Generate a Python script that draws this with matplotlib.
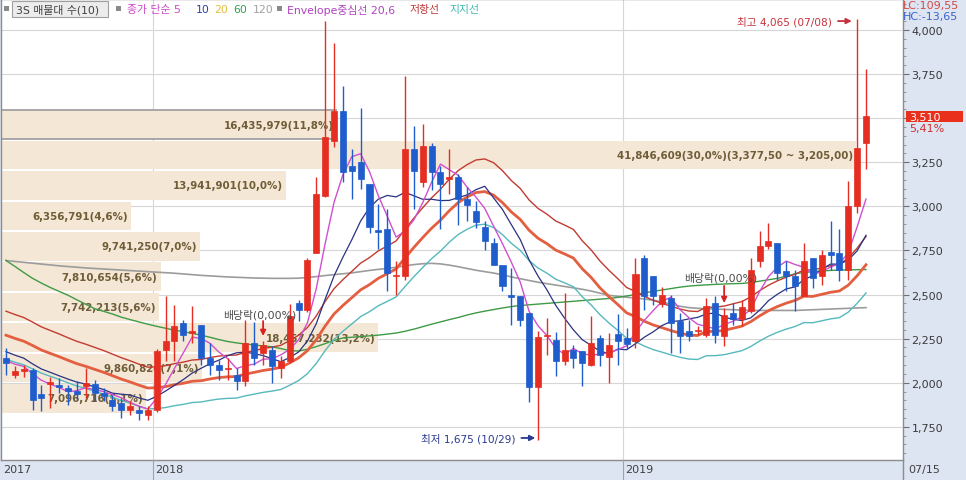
import numpy as np
import pandas as pd
import matplotlib
matplotlib.use('Agg')
import matplotlib.pyplot as plt
from matplotlib import font_manager
from matplotlib.patches import Rectangle
from matplotlib.lines import Line2D
from matplotlib.ticker import MultipleLocator, FuncFormatter

plt.rcParams['font.family'] = ['DejaVu Sans', 'Noto Sans CJK KR']
installed = {f.name for f in font_manager.fontManager.ttflist}
AXIS_FONT = 'Liberation Sans Narrow' if 'Liberation Sans Narrow' in installed else 'DejaVu Sans'

# weekly candles, week of 2017-09-04 .. week of 2019-07-15
opens = [2139, 2043, 2066, 2072, 1936, 1995, 1990, 1970, 1953, 1981,
         1992, 1941, 1902, 1885, 1845, 1845, 1817, 1845, 2184, 2235,
         2337, 2281, 2326, 2139, 2100, 2077, 2043, 2009, 2224, 2167,
         2184, 2083, 2122, 2450, 2411, 2733, 3061, 3372, 3542, 3231,
         3253, 3129, 2863, 2874, 2603, 2603, 3327, 3140, 3344, 3197,
         3157, 3168, 3044, 2976, 2886, 2790, 2665, 2496, 2490, 2394,
         1975, 2264, 2241, 2122, 2184, 2179, 2100, 2252, 2145, 2275,
         2252, 2235, 2705, 2603, 2445, 2478, 2348, 2292, 2292, 2269,
         2450, 2264, 2394, 2360, 2405, 2693, 2773, 2795, 2631, 2603,
         2490, 2710, 2603, 2744, 2738, 2642, 3000, 3361]
highs = [2196, 2094, 2100, 2083, 1987, 2032, 2026, 1987, 2009, 2083,
         2015, 1970, 1930, 1913, 1896, 1868, 1868, 2190, 2490, 2439,
         2354, 2433, 2326, 2224, 2128, 2139, 2083, 2354, 2345, 2235,
         2207, 2150, 2445, 2467, 2705, 3168, 4050, 3926, 3683, 3327,
         3560, 3129, 3016, 2988, 2693, 3740, 3457, 3468, 3360, 3231,
         3327, 3186, 3112, 3033, 2920, 2823, 2665, 2648, 2490, 2394,
         2292, 2366, 2286, 2507, 2213, 2179, 2377, 2269, 2281, 2388,
         2309, 2705, 2727, 2603, 2541, 2496, 2394, 2354, 2320, 2479,
         2490, 2422, 2450, 2467, 2705, 2863, 2908, 2795, 2693, 2637,
         2795, 2710, 2750, 2920, 2874, 3146, 4065, 3780]
lows = [2043, 2026, 2035, 1845, 1839, 1856, 1941, 1873, 1902, 1913,
        1896, 1896, 1839, 1800, 1817, 1789, 1789, 1834, 2122, 2122,
        2235, 2224, 2100, 2043, 2015, 2015, 1958, 1981, 2100, 2100,
        1998, 2026, 2111, 2348, 2400, 2733, 3055, 3338, 3140, 3044,
        3100, 2850, 2761, 2518, 2496, 2580, 2988, 3112, 3095, 2874,
        3072, 2897, 2920, 2880, 2750, 2665, 2523, 2326, 2320, 1890,
        1675, 2156, 2037, 2100, 2083, 1981, 2094, 2094, 1998, 2100,
        2190, 2196, 2411, 2440, 2428, 2167, 2167, 2235, 2270, 2258,
        2224, 2207, 2326, 2320, 2394, 2659, 2760, 2580, 2518, 2405,
        2490, 2535, 2557, 2637, 2575, 2580, 2960, 3214]
closes = [2111, 2066, 2077, 1902, 1913, 2000, 1975, 1953, 1936, 1998,
          1941, 1924, 1868, 1845, 1868, 1828, 1845, 2179, 2235, 2320,
          2269, 2292, 2139, 2100, 2072, 2083, 2009, 2224, 2139, 2213,
          2094, 2122, 2377, 2411, 2694, 3072, 3395, 3542, 3197, 3203,
          3157, 2886, 2857, 2620, 2610, 3327, 3203, 3344, 3197, 3129,
          3168, 3044, 3010, 2914, 2806, 2665, 2546, 2484, 2354, 1975,
          2258, 2269, 2122, 2184, 2139, 2111, 2224, 2156, 2213, 2235,
          2218, 2614, 2490, 2490, 2496, 2337, 2264, 2264, 2298, 2433,
          2269, 2383, 2360, 2428, 2642, 2773, 2806, 2625, 2603, 2546,
          2693, 2592, 2722, 2727, 2642, 3000, 3330, 3510]

# weekly closes before the window, only used to start the 5/10/20 averages
prior_closes = [2420, 2400, 2390, 2430, 2380, 2350, 2360, 2320, 2300, 2280,
                2260, 2250, 2230, 2200, 2190, 2170, 2140, 2110, 2100]

# 60 and 120 week averages
ma60 = [2693, 2660, 2625, 2592, 2565, 2540, 2518, 2496, 2470, 2445,
        2420, 2405, 2390, 2372, 2358, 2345, 2332, 2320, 2309, 2298,
        2290, 2280, 2270, 2258, 2245, 2234, 2226, 2220, 2214, 2209,
        2204, 2194, 2182, 2180, 2190, 2205, 2222, 2240, 2254, 2258,
        2262, 2266, 2270, 2276, 2282, 2292, 2304, 2318, 2332, 2345,
        2358, 2370, 2384, 2396, 2406, 2415, 2424, 2432, 2438, 2442,
        2446, 2450, 2454, 2458, 2462, 2466, 2470, 2474, 2478, 2484,
        2492, 2500, 2510, 2518, 2526, 2534, 2542, 2548, 2552, 2555,
        2558, 2560, 2562, 2563, 2568, 2576, 2584, 2592, 2604, 2618,
        2626, 2630, 2634, 2637, 2639, 2640, 2641, 2642]
ma120 = [2693, 2688, 2683, 2678, 2673, 2668, 2663, 2659, 2655, 2651,
         2648, 2645, 2642, 2639, 2636, 2633, 2630, 2627, 2624, 2621,
         2617, 2613, 2609, 2606, 2603, 2600, 2598, 2596, 2594, 2593,
         2592, 2592, 2592, 2593, 2597, 2602, 2608, 2613, 2618, 2623,
         2630, 2637, 2643, 2648, 2655, 2663, 2670, 2675, 2677, 2674,
         2667, 2658, 2648, 2638, 2630, 2622, 2612, 2600, 2590, 2580,
         2570, 2562, 2554, 2546, 2538, 2530, 2520, 2508, 2496, 2490,
         2485, 2480, 2475, 2468, 2458, 2446, 2434, 2426, 2422, 2420,
         2418, 2416, 2414, 2412, 2410, 2410, 2410, 2410, 2410, 2410,
         2412, 2414, 2416, 2418, 2420, 2422, 2424, 2426]

# volume profile (매물대), bottom band first
vp_edges = [1825, 1997.5, 2170, 2342.5, 2515, 2687.5, 2860, 3032.5, 3205, 3377.5, 3550]
vp_vols = [7096716, 9860824, 18457232, 7742213, 7810654,
           9741250, 6356791, 13941901, 41846609, 16435979]
vp_labels = ['7,096,716(5,1%)', '9,860,824(7,1%)', '18,457,232(13,2%)',
             '7,742,213(5,6%)', '7,810,654(5,6%)', '9,741,250(7,0%)',
             '6,356,791(4,6%)', '13,941,901(10,0%)',
             '41,846,609(30,0%)(3,377,50 ~ 3,205,00)', '16,435,979(11,8%)']

dates = pd.date_range(end='2019-07-15', periods=len(closes), freq='W-MON')

W, H = 966, 481
STEP = 8.866          # pixels per weekly candle
X0 = 6                # pixel position of the first candle
RED, BLUE = '#e52d21', '#1f5ccc'


def ptext(x, y, s, **kw):
    kw.setdefault('va', 'center')
    return fig.text(x / W, 1 - y / H, s, **kw)


def px2i(x):
    return (x - X0) / STEP


fig = plt.figure(figsize=(W / 100, H / 100), dpi=100, facecolor='#dce5f1')
ax = fig.add_axes([1 / W, 1 - 461 / H, 902 / W, 461 / H])
ax.set_facecolor('white')
ax.set_xlim(px2i(1), px2i(903))
ax.set_ylim(1562, 4176)

# grid
ax.yaxis.set_major_locator(MultipleLocator(250))
ax.yaxis.set_minor_locator(MultipleLocator(50))
ax.grid(axis='y', which='major', color='#d6d6d6', lw=0.8, zorder=0)
ax.set_axisbelow(True)

year_starts = [i for i in range(1, len(dates)) if dates[i].year != dates[i - 1].year]
for i in year_starts:
    ax.axvline(i - 0.4, color='#d6d6d6', lw=0.8, zorder=0)

# volume profile bands
xl = ax.get_xlim()[0]
full = 855 / STEP
vmax = max(vp_vols)
for k, (v, lab) in enumerate(zip(vp_vols, vp_labels)):
    lo, hi = vp_edges[k], vp_edges[k + 1]
    w = v / vmax * full
    ax.add_patch(Rectangle((xl, lo + 5), w, hi - lo - 10, facecolor='#f5e7d5',
                           edgecolor='none', zorder=1))
    ax.text(xl + w - 3 / STEP, (lo + hi) / 2, lab, ha='right', va='center',
            fontsize=7.4, fontweight='bold', color='#6f5d38', zorder=2)
# band holding the current price is outlined
k = len(vp_vols) - 1
w = vp_vols[k] / vmax * full
ax.hlines([vp_edges[k] + 5, vp_edges[k + 1] - 5], xl, xl + w, color='#9a9a9a', lw=1.2, zorder=2)

# averages and envelope
idx = np.arange(len(closes))
allc = pd.Series(prior_closes + closes, dtype=float)
n0 = len(prior_closes)
ma5 = allc.rolling(5).mean().iloc[n0:].values
ma10 = allc.rolling(10).mean().iloc[n0:].values
ma20 = allc.rolling(20).mean().iloc[n0:].values

ax.plot(idx, ma120, color='#9c9c9c', lw=1.2, zorder=3)
ax.plot(idx, ma60, color='#3f9a45', lw=1.0, zorder=3)
ax.plot(idx, ma20 * 0.94, color='#56b9bd', lw=1.0, zorder=3)
ax.plot(idx, ma20 * 1.06, color='#c23b30', lw=1.0, zorder=3)
ax.plot(idx, ma20, color='#e45e40', lw=2.0, zorder=3)
ax.plot(idx, ma10, color='#2a3282', lw=0.9, zorder=3)
ax.plot(idx, ma5, color='#d050d0', lw=1.0, zorder=3)

# candles
for i, (o, h, l, c) in enumerate(zip(opens, highs, lows, closes)):
    col = RED if c >= o else BLUE
    ax.vlines(i, l, h, color=col, lw=1, zorder=4)
    b0, b1 = min(o, c), max(o, c)
    if b1 - b0 < 8:
        m = (o + c) / 2
        b0, b1 = m - 4, m + 4
    ax.add_patch(Rectangle((i - 0.34, b0), 0.68, b1 - b0, facecolor=col,
                           edgecolor=col, lw=0.5, zorder=4))

# annotations
hi_i = int(np.argmax(highs))
lo_i = int(np.argmin(lows))
ax.annotate('최고 %s (%s)' % (format(highs[hi_i], ','), dates[hi_i].strftime('%m/%d')),
            xy=(hi_i - 0.6, 4051), xytext=(-14, 0), textcoords='offset points',
            ha='right', va='center', fontsize=7.6, color='#c8323c', zorder=6,
            arrowprops=dict(arrowstyle='-|>', color='#c8323c', lw=1.3,
                            mutation_scale=8, shrinkA=2, shrinkB=0))
ax.annotate('최저 %s (%s)' % (format(lows[lo_i], ','), dates[lo_i].strftime('%m/%d')),
            xy=(lo_i - 0.3, 1687), xytext=(-14, 0), textcoords='offset points',
            ha='right', va='center', fontsize=7.6, color='#2a3a90', zorder=6,
            arrowprops=dict(arrowstyle='-|>', color='#2a3a90', lw=1.3,
                            mutation_scale=8, shrinkA=2, shrinkB=0))

for i, ty, a0, a1 in [(29, 2390, 2350, 2265), (81, 2600, 2549, 2452)]:
    ax.text(i - 0.35, ty, '배당락(0,00%)', ha='center', va='center',
            fontsize=7.8, color='#4a4a4a', zorder=6)
    ax.annotate('', xy=(i, a1), xytext=(i, a0),
                arrowprops=dict(arrowstyle='-|>', color='#d82020', lw=1.3,
                                mutation_scale=8, shrinkA=0, shrinkB=0), zorder=6)

# right price axis; the tick label under the last-price box is hidden, as in the terminal
last = closes[-1]
ax.yaxis.tick_right()
ax.yaxis.set_major_formatter(FuncFormatter(
    lambda v, p: '' if abs(v - last) < 60 else format(int(v), ',')))
ax.tick_params(axis='y', which='major', length=4, color='#707070',
               labelsize=8, labelcolor='#3a3a3a', pad=2)
ax.tick_params(axis='y', which='minor', length=2.5, color='#8a8a8a')
for t in ax.get_yticklabels():
    t.set_fontfamily(AXIS_FONT)
ax.set_xticks([])
for sp in ax.spines.values():
    sp.set_color('#8c8c8c')
    sp.set_linewidth(1)

# last price box
fig.add_artist(Rectangle((906 / W, 1 - 123 / H), 57 / W, 11 / H,
                         transform=fig.transFigure, facecolor='#e8301c', edgecolor='none'))
ptext(909, 117.5, format(last, ','), color='white', fontsize=8, family=AXIS_FONT)
chg = (closes[-1] / closes[-2] - 1) * 100
ptext(909, 129, ('%.2f%%' % chg).replace('.', ','), color='#d03030', fontsize=8,
      family=AXIS_FONT)
ptext(903, 6, 'LC:109,55', color='#d24a4a', fontsize=8, family=AXIS_FONT)
ptext(903, 17, 'HC:-13,65', color='#3c64c8', fontsize=8, family=AXIS_FONT)

# date strip
for i in year_starts:
    xp = X0 + STEP * (i - 0.4)
    fig.add_artist(Line2D([xp / W, xp / W], [0, 1 - 461 / H], color='#9aa4b4', lw=0.8))
    ptext(xp + 2, 470, str(dates[i].year), color='#404040', fontsize=8, family=AXIS_FONT)
ptext(3, 470, str(dates[0].year), color='#404040', fontsize=8, family=AXIS_FONT)
fig.add_artist(Line2D([903 / W, 903 / W], [0, 1 - 461 / H], color='#8c8c8c', lw=1))
ptext(908, 470, dates[-1].strftime('%m/%d'), color='#404040', fontsize=8, family=AXIS_FONT)

# legend row
fig.add_artist(Rectangle((12 / W, 1 - 18 / H), 96 / W, 16 / H, transform=fig.transFigure,
                         facecolor='#ececec', edgecolor='#a0a0a0', lw=0.8))
for x in [4, 116, 277]:
    fig.add_artist(Rectangle((x / W, 1 - 12 / H), 5 / W, 5 / H, transform=fig.transFigure,
                             facecolor='#8a8a8a', edgecolor='none'))
legend_bits = [(16, '3S 매물대 수(10)', '#404040'),
               (127, '종가 단순 5', '#cc48c8'),
               (196, '10', '#3040a0'),
               (214, '20', '#e0bc3c'),
               (233, '60', '#30a050'),
               (253, '120', '#a0a0a0'),
               (287, 'Envelope중심선 20,6', '#b040c0'),
               (410, '저항선', '#c03838'),
               (449, '지지선', '#40b8b0')]
for x, s, col in legend_bits:
    ptext(x, 10, s, color=col, fontsize=7.8)

fig.savefig('out.png', dpi=100, facecolor=fig.get_facecolor())
